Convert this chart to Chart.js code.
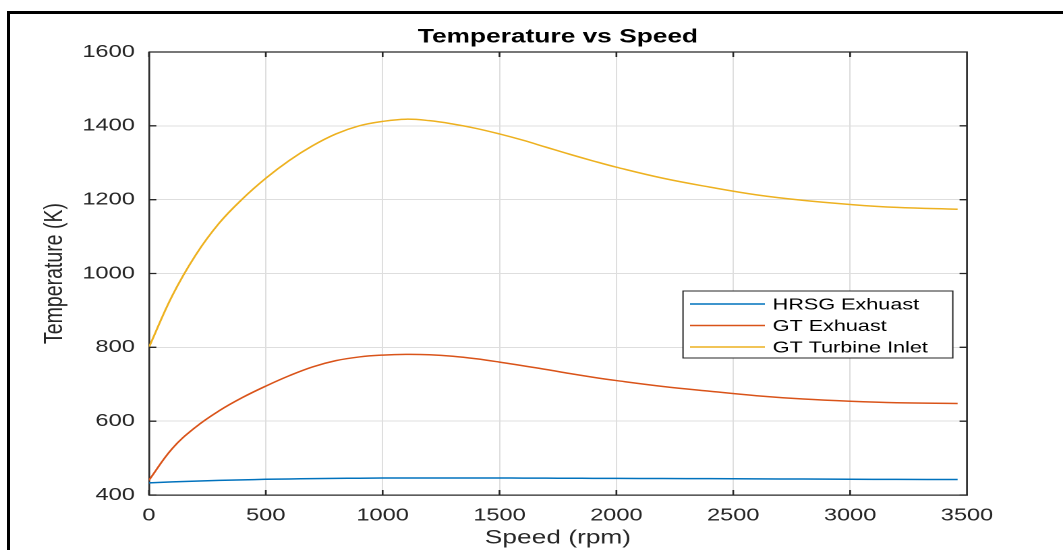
<!DOCTYPE html>
<html>
<head>
<meta charset="utf-8">
<title>Temperature vs Speed</title>
<script src="https://cdn.jsdelivr.net/npm/chart.js@4.4.1/dist/chart.umd.min.js"></script>
<style>
    html, body { margin: 0; padding: 0; background: #fff; overflow: hidden; }
    #frame {
        position: absolute; left: 7px; top: 11px; width: 1056px; height: 539px;
        border-left: 3px solid #000; border-top: 3px solid #000; box-sizing: border-box;
    }
    /* the reference figure is stretched sideways, so the canvas is too */
    #wrap {
        position: absolute; left: 0; top: 0; width: 788px; height: 550px;
        transform: scaleX(1.349); transform-origin: 0 0;
    }
</style>
</head>
<body>
<div id="frame"></div>
<div id="wrap"><canvas id="tempChart" width="788" height="550"></canvas></div>
<script>
// Speed (rpm)
const speed = [0, 100, 200, 300, 400, 500, 600, 700, 800, 900, 1000, 1100, 1200, 1300, 1400,
    1500, 1600, 1700, 1800, 1900, 2000, 2200, 2400, 2600, 2800, 3000, 3200, 3460];
// Temperature (K)
const hrsgExhaust = [433, 435.5, 437.5, 439.5, 441, 442.5, 443.5, 444.5, 445, 445.5, 446, 446, 446, 446, 446,
    446, 445.8, 445.6, 445.4, 445.2, 445, 444.6, 444.2, 443.7, 443.2, 442.7, 442.3, 442];
const gtExhaust = [440, 526, 584, 628, 664, 695, 723, 747, 764, 774, 779, 781, 780, 776, 769,
    760, 750, 740, 729, 719, 710, 694, 681, 669, 660, 654, 650, 648];
const gtTurbineInlet = [800, 940, 1050, 1136, 1202, 1258, 1306, 1346, 1378, 1400, 1412, 1418, 1414, 1405, 1393,
    1378, 1361, 1342, 1323, 1305, 1288, 1258, 1234, 1213, 1198, 1187, 1179, 1174];

const xTicks = [0, 500, 1000, 1500, 2000, 2500, 3000, 3500];
const yTicks = [400, 600, 800, 1000, 1200, 1400, 1600];

const AXIS = '#262626';
const FONT = 'Liberation Sans, Arial, Helvetica, sans-serif';

function pts(ys) {
    return speed.map((s, i) => ({ x: s, y: ys[i] }));
}

// matlab style box: top/right edges, inward ticks and the legend inside the axes
const matlabBox = {
    id: 'matlabBox',
    afterDraw(chart) {
        const { ctx, chartArea: a, scales: { x, y } } = chart;
        ctx.save();
        ctx.strokeStyle = AXIS;
        ctx.lineWidth = 1.3;
        ctx.beginPath();
        ctx.moveTo(a.left, a.top); ctx.lineTo(a.right, a.top); ctx.lineTo(a.right, a.bottom);
        xTicks.forEach(v => {
            const px = x.getPixelForValue(v);
            ctx.moveTo(px, a.bottom); ctx.lineTo(px, a.bottom - 5);
            ctx.moveTo(px, a.top); ctx.lineTo(px, a.top + 5);
        });
        yTicks.forEach(v => {
            const py = y.getPixelForValue(v);
            ctx.moveTo(a.left, py); ctx.lineTo(a.left + 5.5, py);
            ctx.moveTo(a.right, py); ctx.lineTo(a.right - 5.5, py);
        });
        ctx.stroke();

        // legend
        const bx = 506.3, by = 291, bw = 200, bh = 67;
        ctx.fillStyle = '#fff';
        ctx.fillRect(bx, by, bw, bh);
        ctx.lineWidth = 1;
        ctx.strokeRect(bx, by, bw, bh);
        ctx.font = '16px ' + FONT;
        ctx.textBaseline = 'middle';
        chart.data.datasets.forEach((ds, i) => {
            const ry = 304 + i * 21.5;
            ctx.strokeStyle = ds.borderColor;
            ctx.lineWidth = 1.5;
            ctx.beginPath();
            ctx.moveTo(511.5, ry); ctx.lineTo(567, ry);
            ctx.stroke();
            ctx.fillStyle = '#000';
            ctx.fillText(ds.label, 572.8, ry + 1);
        });
        ctx.restore();
    }
};

const ctx = document.getElementById('tempChart').getContext('2d');
new Chart(ctx, {
    type: 'line',
    data: {
        datasets: [{
            label: 'HRSG Exhuast',
            data: pts(hrsgExhaust),
            borderColor: '#0072BD'
        }, {
            label: 'GT Exhuast',
            data: pts(gtExhaust),
            borderColor: '#D95319'
        }, {
            label: 'GT Turbine Inlet',
            data: pts(gtTurbineInlet),
            borderColor: '#EDB120'
        }]
    },
    options: {
        responsive: false,
        animation: false,
        devicePixelRatio: 2,
        layout: { padding: { left: 0, right: 71.2, top: 0, bottom: 0 } },
        elements: {
            point: { radius: 0 },
            line: { borderWidth: 1.5, tension: 0.4, fill: false }
        },
        scales: {
            x: {
                type: 'linear',
                min: 0,
                max: 3500,
                afterBuildTicks: s => { s.ticks = xTicks.map(v => ({ value: v })); },
                afterFit: s => { s.height = 55; s.paddingLeft = 0; s.paddingRight = 0; },
                grid: { color: '#dedede', drawTicks: false },
                border: { color: AXIS, width: 1.3 },
                ticks: { color: AXIS, font: { family: FONT, size: 17.5 }, padding: 10, maxRotation: 0, autoSkip: false, callback: v => String(v) },
                title: { display: true, text: 'Speed (rpm)', color: AXIS, font: { family: FONT, size: 19.5 }, padding: { top: 0, bottom: 0 } }
            },
            y: {
                min: 400,
                max: 1600,
                afterBuildTicks: s => { s.ticks = yTicks.map(v => ({ value: v })); },
                afterFit: s => { s.width = 110.4; s.paddingTop = 0; s.paddingBottom = 0; },
                grid: { color: '#dedede', drawTicks: false },
                border: { color: AXIS, width: 1.3 },
                ticks: { color: AXIS, font: { family: FONT, size: 17.5 }, padding: 10.4, autoSkip: false, callback: v => String(v) },
                title: { display: true, text: 'Temperature (K)', color: AXIS, font: { family: FONT, size: 19.5 }, padding: { top: 29, bottom: 0 } }
            }
        },
        plugins: {
            legend: { display: false },
            tooltip: { enabled: false },
            title: {
                display: true,
                text: 'Temperature vs Speed',
                fullSize: false,
                color: '#000',
                font: { family: FONT, size: 19.5, weight: 'bold' },
                padding: { top: 25.3, bottom: 3.3 }
            }
        }
    },
    plugins: [matlabBox]
});
</script>
</body>
</html>
